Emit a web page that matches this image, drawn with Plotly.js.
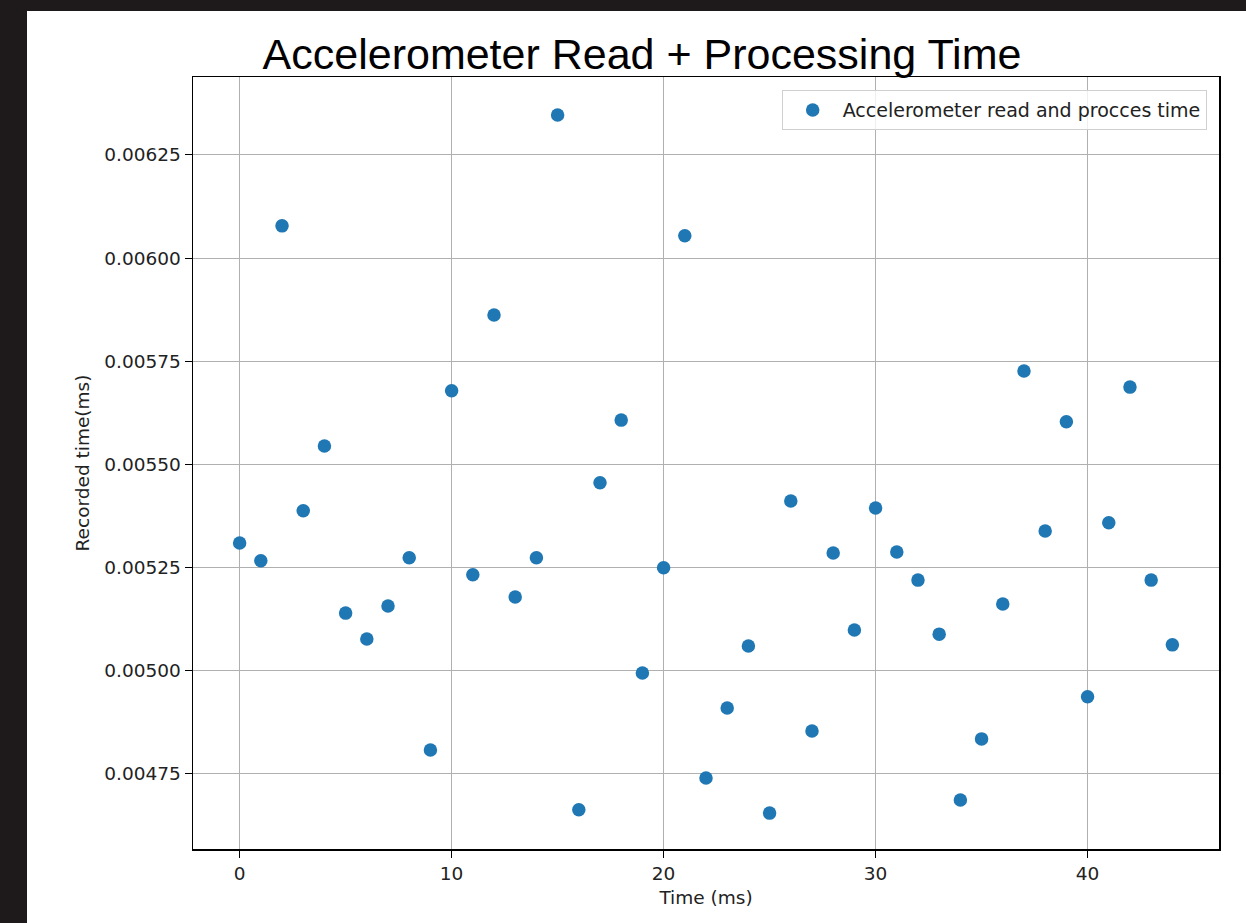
<!DOCTYPE html>
<html><head><meta charset="utf-8">
<script src="https://cdn.plot.ly/plotly-3.0.1.min.js"></script>
<style>
html,body{margin:0;padding:0;background:#1e1a1c;width:1246px;height:923px;overflow:hidden;}
#chart{position:absolute;left:27px;top:11px;width:1219px;height:912px;background:#fff;}
</style></head><body>
<div id="chart"></div>
<script>
const xValues = [0,1,2,3,4,5,6,7,8,9,10,11,12,13,14,15,16,17,18,19,20,21,22,23,24,25,26,27,28,29,30,31,32,33,34,35,36,37,38,39,40,41,42,43,44];
const yValues = [0.005309,0.005266,0.006078,0.005387,0.005544,0.005139,0.005076,0.005156,0.005273,0.004807,
0.005678,0.005232,0.005862,0.005178,0.005273,0.006347,0.004662,0.005455,0.005607,0.004994,
0.005249,0.006054,0.004739,0.004909,0.005059,0.004654,0.005411,0.004853,0.005285,0.005098,
0.005394,0.005287,0.005219,0.005088,0.004686,0.004834,0.005161,0.005726,0.005338,0.005603,
0.004936,0.005358,0.005687,0.005219,0.005062];
const yTicks = [0.00475,0.00500,0.00525,0.00550,0.00575,0.00600,0.00625];
const yTickLabels = ["0.00475","0.00500","0.00525","0.00550","0.00575","0.00600","0.00625"];
const xTicks = [0,10,20,30,40];
const seriesName = "Accelerometer read and procces time";

const tickFont = {family:"DejaVu Sans", size:18.5, color:"#222"};
const labelFont = {family:"DejaVu Sans", size:18.5, color:"#222"};
Plotly.newPlot("chart", [{
  x: xValues, y: yValues, type:"scatter", mode:"markers", name: seriesName,
  marker:{color:"#1f77b4", size:13.5}
}], {
  width:1219, height:912,
  margin:{l:166, r:27, t:66, b:74},
  paper_bgcolor:"#fff", plot_bgcolor:"#fff",
  title:{text:"Accelerometer Read + Processing Time", font:{family:"Liberation Sans", size:43, color:"#000"}, x:0.5045, xanchor:"center", xref:"container", y:1, yanchor:"top", yref:"container", pad:{t:28}},
  showlegend:true,
  legend:{x:0.988, xanchor:"right", y:0.983, yanchor:"top", bgcolor:"rgba(255,255,255,0.8)", bordercolor:"#d0d0d0", borderwidth:1, itemwidth:50, font:{family:"DejaVu Sans", size:19, color:"#222"}},
  xaxis:{range:[-2.2,46.2], tickvals:xTicks, ticktext:xTicks.map(String), showgrid:true, gridcolor:"#b0b0b0", gridwidth:1, zeroline:false,
    showline:true, linecolor:"#000", linewidth:1.5, mirror:true, ticks:"outside", ticklen:7, tickcolor:"#000", tickfont:tickFont,
    title:{text:"Time (ms)", font:labelFont, standoff:8}},
  yaxis:{range:[0.004567,0.006439], tickvals:yTicks, ticktext:yTickLabels, showgrid:true, gridcolor:"#b0b0b0", gridwidth:1, zeroline:false,
    showline:true, linecolor:"#000", linewidth:1.5, mirror:true, ticks:"outside", ticklen:7, tickcolor:"#000", tickfont:tickFont,
    title:{text:"Recorded time(ms)", font:labelFont, standoff:10}}
}, {staticPlot:true});
</script></body></html>
